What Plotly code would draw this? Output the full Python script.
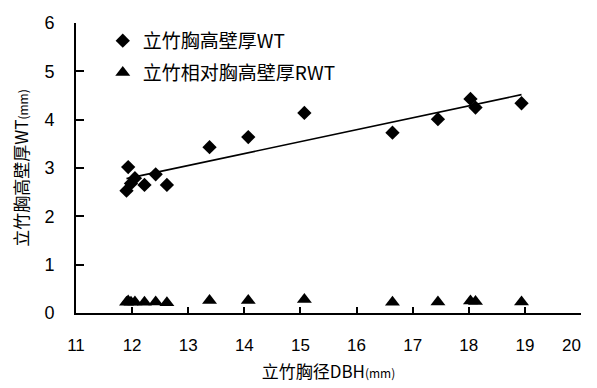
import numpy as np
import plotly.graph_objects as go

# Data
dbh = [11.90, 11.93, 11.98, 12.05, 12.22, 12.42, 12.62, 13.38, 14.07, 15.07, 16.64, 17.45, 18.03, 18.12, 18.94]
wt = [2.53, 3.02, 2.68, 2.79, 2.65, 2.87, 2.65, 3.43, 3.64, 4.14, 3.73, 4.01, 4.43, 4.25, 4.34]
rwt = [0.22, 0.25, 0.22, 0.23, 0.22, 0.23, 0.21, 0.26, 0.26, 0.28, 0.22, 0.23, 0.25, 0.24, 0.23]
x_ticks = [11, 12, 13, 14, 15, 16, 17, 18, 19, 20]
x_tick_labels = ["11", "12", "13", "14", "15", "16", "17", "18", "19", "20\u00a0\u00a0\u00a0\u00a0"]
y_ticks = [0, 1, 2, 3, 4, 5, 6]

name_wt = "立竹胸高壁厚WT"
name_rwt = "立竹相对胸高壁厚RWT"
x_title = '立竹胸径DBH<span style="font-size:12px">(mm)</span>'
y_title = '立竹胸高壁厚WT<span style="font-size:12px">(mm)</span>'

# linear trend line (least squares) over the data range
slope, intercept = np.polyfit(dbh, wt, 1)
tx = np.array([min(dbh), max(dbh)])
ty = slope * tx + intercept

CJK = "Noto Sans CJK SC"
NUM = "Liberation Sans"

fig = go.Figure()
fig.add_trace(go.Scatter(x=tx, y=ty, mode="lines", line=dict(color="black", width=1.6),
                         showlegend=False, hoverinfo="skip"))
fig.add_trace(go.Scatter(x=dbh, y=wt, mode="markers", name=name_wt, legendgroup="a",
                         marker=dict(symbol="diamond", size=11, color="black")))
fig.add_trace(go.Scatter(x=dbh, y=rwt, mode="markers", name=name_rwt, legendgroup="b",
                         marker=dict(symbol="triangle-up", size=13, color="black")))

fig.update_layout(
    width=597, height=388,
    margin=dict(l=68, r=17, t=5, b=83),
    paper_bgcolor="white", plot_bgcolor="white",
    font=dict(family=CJK, color="black"),
    legend=dict(x=0.053, y=1.004, xanchor="left", yanchor="top",
                font=dict(family=CJK, size=19, color="black"),
                bgcolor="rgba(0,0,0,0)", traceorder="grouped", tracegroupgap=4,
                itemwidth=30),
    xaxis=dict(range=[11, 20], tickvals=x_ticks, ticktext=x_tick_labels,
               ticks="inside", ticklen=6, tickwidth=2,
               tickcolor="black", showline=True, linecolor="black", linewidth=2,
               showgrid=False, zeroline=False, ticklabeloverflow="allow",
               ticklabelstandoff=16,
               tickfont=dict(family=NUM, size=17, color="black"),
               title=dict(text=x_title, font=dict(family=CJK, size=17, color="black"), standoff=12)),
    yaxis=dict(range=[0, 6], tickvals=y_ticks, ticks="inside", ticklen=8, tickwidth=2,
               tickcolor="black", showline=True, linecolor="black", linewidth=2,
               showgrid=False, zeroline=False, ticklabeloverflow="allow",
               ticklabelstandoff=16,
               tickfont=dict(family=NUM, size=18, color="black"),
               title=dict(text=y_title, font=dict(family=CJK, size=17, color="black"), standoff=12)),
    showlegend=True,
)

fig.write_html("out.html")
